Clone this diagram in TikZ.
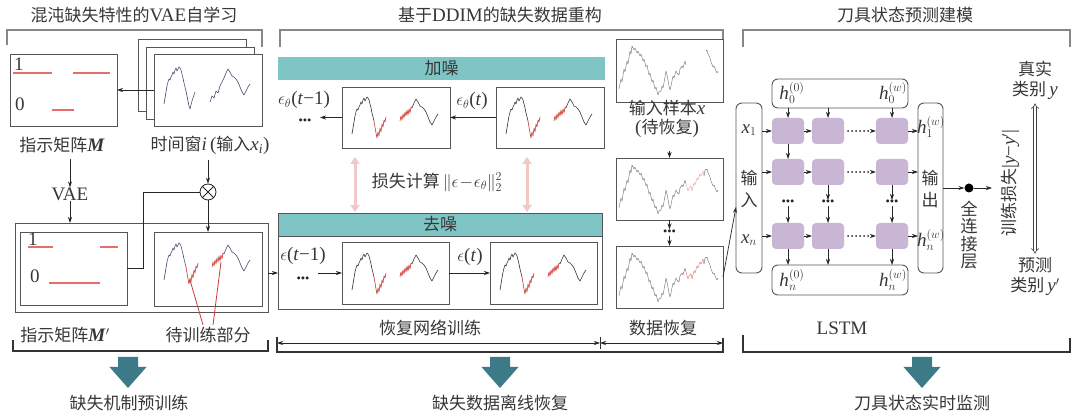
\documentclass[tikz,border=0pt]{standalone}
\usepackage{fontspec}
\setmainfont[Scale=1.12]{Liberation Serif}
\newfontfamily\cjk{Noto Sans CJK SC}
\usetikzlibrary{arrows.meta,calc}
\newcommand\zh[1]{{\cjk #1}}
\newcommand\tx[1]{\mbox{\textit{#1}}}
\definecolor{txtc}{RGB}{55,55,55}
\definecolor{boxc}{RGB}{85,85,85}
\definecolor{brk}{RGB}{135,135,135}
\definecolor{hdr}{RGB}{128,197,197}
\definecolor{bigc}{RGB}{60,122,136}
\definecolor{pinkc}{RGB}{240,200,200}
\definecolor{redc}{RGB}{200,60,50}
\definecolor{salmon}{RGB}{232,110,110}
\definecolor{lstmc}{RGB}{200,182,212}
\definecolor{wblue}{RGB}{60,75,110}
\definecolor{recg}{RGB}{120,120,120}
% waveform pieces (local pixel coordinates)
\newcommand\wvSegA[1]{\draw[#1] (10,46)--(11,40)--(12,34)--(13,28)--(14,24)--(15,21)--(16,22)--(17,19)--(18,17)--(19,14)--(20,16)--(21,12)--(22,10)--(23,13)--(24,11)--(25,9)--(26,10)--(27,12)--(28,16)--(29,20)--(30,25)--(31,29)--(32,33);}
\newcommand\wvDipC[1]{\draw[#1] (32,33)--(33,38)--(34,43)--(35,48)--(36,51)--(37,47)--(38,43)--(39,40)--(40,37)--(41,34);}
\newcommand\wvDipN[1]{\draw[#1] (32,33)--(33,39)--(34,45)--(35,50)--(36,44)--(37,48)--(38,40)--(39,44)--(40,36)--(41,39)--(42,32)--(43,34)--(44,29);}
\newcommand\wvStC[1]{\draw[#1] (56,44)--(58,38)--(60,40)--(62,33)--(64,35)--(66,28)--(68,24)--(70,20);}
\newcommand\wvStN[1]{\draw[#1] (58,33)--(59,28)--(60,32)--(61,26)--(62,30)--(63,24)--(64,28)--(65,22)--(66,27)--(67,21)--(68,25)--(69,19)--(70,20);}
\newcommand\wvRest[1]{\draw[#1] (70,20)--(72,15)--(74,11)--(76,14)--(78,18)--(80,19)--(82,21)--(84,24)--(86,29)--(88,34)--(90,37)--(92,33)--(94,29)--(96,26);}
\newcommand\recA[1]{\draw[#1] (3,50)--(5,40)--(6,43)--(8,30)--(9,33)--(11,22)--(12,25)--(14,12)--(15,15)--(16,7)--(18,11)--(19,9)--(21,14)--(22,12)--(24,17)--(25,15)--(27,22)--(28,20)--(30,28)--(31,26)--(33,36)--(34,34)--(36,43)--(37,41)--(39,50)--(40,48)--(42,56)--(43,53)--(45,52)--(46,47)--(47,49)--(49,38)--(50,32)--(51,36)--(53,47)--(54,51)--(55,47)--(57,37)--(58,39)--(60,32)--(61,34)--(63,36)--(64,30)--(66,27)--(67,29)--(69,22)--(70,26);}
\newcommand\recB[1]{\draw[#1] (70,26)--(72,33)--(73,30)--(75,28)--(76,33)--(78,25)--(79,27)--(81,20)--(82,22)--(84,16)--(85,18)--(87,13)--(88,18);}
\newcommand\recC[1]{\draw[#1] (88,18)--(89,12)--(91,11)--(92,15)--(94,19)--(95,23)--(97,28)--(98,27)--(100,32)--(101,34)--(102,32);}
\newcommand\bigdown[1]{\fill[bigc] (#1-10,357)--(#1+10,357)--(#1+10,367)--(#1+18.5,367)--(#1,388)--(#1-18.5,367)--(#1-10,367)--cycle;}
\begin{document}
\begin{tikzpicture}[x=1pt,y=-1pt,
  txt/.style={font=\fontsize{17pt}{19pt}\selectfont, text=txtc, inner sep=0pt},
  pbox/.style={draw=boxc, line width=0.9pt, fill=white, inner sep=0pt, outer sep=0pt},
  rbox/.style={draw=boxc, line width=0.9pt, rounded corners=6pt, inner sep=0pt, outer sep=0pt},
  cellbox/.style={fill=lstmc, rounded corners=4pt, minimum width=32pt, minimum height=26pt, inner sep=0pt, outer sep=0pt},
  arr/.style={-{Stealth[length=6pt,width=4pt]}, line width=0.7pt, draw=black!85},
  darr/.style={{Stealth[length=6pt,width=4pt]}-{Stealth[length=6pt,width=4pt]}, line width=0.7pt, draw=black!85},
  dotarr/.style={-{Stealth[length=6pt,width=4pt]}, line width=2pt, line cap=round, dash pattern=on 0pt off 4pt, draw=black!85},
  brack/.style={draw=brk, line width=1.3pt},
  bbrack/.style={draw=black!80, line width=1.1pt},
  pinkarr/.style={draw=pinkc, line width=3pt, {Triangle[length=7pt,width=9pt]}-{Triangle[length=7pt,width=9pt]}},
  wave/.style={line width=0.6pt, line join=round},
  rwave/.style={line width=0.45pt, line join=round},
  dotsn/.style={font=\fontsize{11pt}{13pt}\selectfont, text=black!85, inner sep=0pt}
]
\useasboundingbox (0,0) rectangle (1080,419);
\fill[white] (0,0) rectangle (1080,419);

% ================= Section 1 =================
\node[txt] (t1) at (134,15) {\zh{混沌缺失特性的}VAE\zh{自学习}};
\draw[brack] (7,45) -- (7,30) -- (262,30) -- (262,47);

\node[pbox, minimum width=107pt, minimum height=72pt] (M) at (63.5,90) {};
\node[txt, anchor=west] (one1) at (14,64) {1};
\node[txt, anchor=west] (zero1) at (15,104) {0};
\draw[salmon, line width=1.4pt] (13,73) -- (52,73) (73,73) -- (110,73) (52,110) -- (74,110);

\node[pbox, minimum width=108pt, minimum height=72pt] (tw3) at (192,75) {};
\node[pbox, minimum width=108pt, minimum height=72pt] (tw2) at (200,83) {};
\node[pbox, minimum width=108pt, minimum height=72pt] (tw) at (208,90) {};
\begin{scope}[shift={(154,58)}]
  \wvSegA{wave, wblue}\wvDipC{wave, wblue}\wvStC{wave, wblue}\wvRest{wave, wblue}
\end{scope}
\draw[arr] (tw.west) -- (M.east);

\node[txt] (lM) at (62,145) {\zh{指示矩阵}\textbf{\textit{M}}};
\node[txt] (ltw) at (210,145) {\zh{时间窗}\textit{i}\,(\zh{输入}\textit{x}\textsubscript{\textit{i}})};

\node[txt] (vae) at (70,194) {VAE};
\draw[arr] (vae.north |- lM.south) ++(0,6) -- (vae.north);

\node[draw=black!85, line width=0.8pt, circle, minimum size=16pt, inner sep=0pt] (mul) at (208,192) {};
\draw[black!85, line width=0.8pt] (mul.north west) -- (mul.south east) (mul.north east) -- (mul.south west);
\draw[arr] (mul.north |- ltw.south) ++(0,6) -- (mul.north);

\node[pbox, minimum width=253pt, minimum height=89pt] (L) at (141.5,267.5) {};
\draw[arr] (vae.south) -- (vae.south |- L.north);
\node[pbox, minimum width=107pt, minimum height=73pt] (Mp) at (73.5,268.5) {};
\node[txt, anchor=west] (one2) at (28,239) {1};
\node[txt, anchor=west] (zero2) at (30,276) {0};
\draw[salmon, line width=1.4pt] (28,247) -- (53,247) (100,247) -- (118,247) (49,283) -- (100,283);

\node[pbox, minimum width=108pt, minimum height=74pt] (P) at (208,269) {};
\begin{scope}[shift={(154,234)}]
  \wvSegA{wave, wblue}\wvDipN{wave, redc}\wvStN{wave, redc}\wvRest{wave, wblue}
\end{scope}
\draw[arr] (mul.south) -- (P.north);
\draw[black!85, line width=0.8pt] (Mp.east) -- (143,268.5) -- (143,192) -- (mul.west);

\node[txt] (lMp) at (65,335) {\zh{指示矩阵}\textbf{\textit{M}}$'$};
\node[txt] (lP) at (208,335) {\zh{待训练部分}};
\draw[redc, line width=0.8pt] (203,325) -- (190,280);
\draw[redc, line width=0.8pt] (213,325) -- (221,262);

\draw[bbrack] (13,340) -- (13,351) -- (268,351) -- (268,340);
\bigdown{128}
\node[txt] (b1) at (129,403) {\zh{缺失机制预训练}};

% ================= Section 2 =================
\node[txt] (t2) at (500,15) {\zh{基于}DDIM\zh{的缺失数据重构}};
\draw[brack] (280,47) -- (280,30) -- (723,30) -- (723,47);

\node[fill=hdr, minimum width=327pt, minimum height=23pt, inner sep=0pt] (add) at (441.5,68.5) {};
\node[txt] at (add.center) {\zh{加噪}};

\node[pbox, minimum width=108pt, minimum height=61pt] (ua) at (396,117.5) {};
\node[pbox, minimum width=108pt, minimum height=61pt] (ub) at (550,117.5) {};
\begin{scope}[shift={(342,88)}]
  \wvSegA{wave, black!80}\wvDipN{wave, redc}\wvStN{wave, redc}\wvRest{wave, black!80}
\end{scope}
\begin{scope}[shift={(496,88)}]
  \wvSegA{wave, black!80}\wvDipN{wave, redc}\wvStN{wave, redc}\wvRest{wave, black!80}
\end{scope}
\coordinate (uend) at (320,117.5);
\draw[arr] (ub.west) -- (ua.east);
\draw[arr] (ua.west) -- (uend);
\node[txt] (et) at (472,101) {$\epsilon_\theta$(\textit{t})};
\node[txt] (et1) at (304,100) {$\epsilon_\theta$(\textit{t}−1)};
\node[dotsn] (ud) at (305,122) {•••};

\node[pbox, minimum width=324pt, minimum height=96pt] (den) at (440,261) {};
\node[fill=hdr, draw=boxc, line width=0.9pt, minimum width=324pt, minimum height=23pt, inner sep=0pt] (denh) at (440,224.5) {};
\node[txt] at (denh.center) {\zh{去噪}};
\node[pbox, minimum width=107pt, minimum height=62pt] (la) at (395.5,273) {};
\node[pbox, minimum width=107pt, minimum height=62pt] (lb) at (543.5,273) {};
\begin{scope}[shift={(342,244)}]
  \wvSegA{wave, black!80}\wvDipN{wave, redc}\wvStN{wave, redc}\wvRest{wave, black!80}
\end{scope}
\begin{scope}[shift={(490,244)}]
  \wvSegA{wave, black!80}\wvDipN{wave, redc}\wvStN{wave, redc}\wvRest{wave, black!80}
\end{scope}
\coordinate (lstart) at (318,273);
\draw[arr] (lstart) -- (la.west);
\draw[arr] (la.east) -- (lb.west);
\node[txt] (e1) at (470,257) {$\epsilon$(\textit{t})};
\node[txt] (e0) at (303,256) {$\epsilon$(\textit{t}−1)};
\node[dotsn] (ld) at (303,280) {•••};
\draw[arr] (L.east |- den.west) ++(0,12) -- ($(den.west)+(0,12)$);

\coordinate (pa1) at (355,157); \coordinate (pa2) at (355,212);
\coordinate (pb1) at (527,157); \coordinate (pb2) at (527,212);
\draw[pinkarr] (pa1) -- (pa2);
\draw[pinkarr] (pb1) -- (pb2);
\node[txt] (loss) at (437,182) {\zh{损失计算}\,$\|\epsilon\!-\!\epsilon_\theta\|_2^2$};

% data recovery column
\node[pbox, minimum width=107pt, minimum height=63pt] (r1) at (669.5,70.5) {};
\begin{scope}[shift={(616,39)}]
  \recA{rwave, recg}
  \draw[rwave, recg] (90,12)--(91,11)--(92,15)--(94,19)--(95,23)--(97,28)--(98,27)--(100,32)--(101,34)--(102,32);
\end{scope}
\node[txt, align=center] (lr1) at (667,119) {\zh{输入样本}\textit{x}\\(\zh{待恢复})};
\node[pbox, minimum width=107pt, minimum height=62pt] (r2) at (669.5,189) {};
\begin{scope}[shift={(616,158)}]
  \recA{rwave, recg}\recB{rwave, redc!45}\recC{rwave, recg}
\end{scope}
\node[pbox, minimum width=107pt, minimum height=62pt] (r3) at (669.5,277) {};
\begin{scope}[shift={(616,246)}]
  \recA{rwave, recg}\recB{rwave, redc!70}\recC{rwave, recg}
\end{scope}
\node[dotsn, minimum height=6pt] (rd) at (669.5,232.5) {•••};
\draw[arr] (r2.north) ++(0,-7) -- (r2.north);
\draw[arr] (r2.south) -- (rd.north);
\draw[arr] (rd.south) -- (r3.north);

\node[txt] (l21) at (430,328) {\zh{恢复网络训练}};
\node[txt] (l22) at (663,328) {\zh{数据恢复}};
\coordinate (d0) at (277,343); \coordinate (d1) at (600,343); \coordinate (d2) at (723,343);
\draw[darr] (d0) -- (d1);
\draw[darr] (d1) -- (d2);
\draw[black!80, line width=0.8pt] (600,337) -- (600,349);
\draw[bbrack] (277,337) -- (277,352) -- (723,352) -- (723,338);
\bigdown{500}
\node[txt] (b2) at (500,403) {\zh{缺失数据离线恢复}};

% ================= Section 3 =================
\node[txt] (t3) at (905,15) {\zh{刀具状态预测建模}};
\draw[brack] (743,47) -- (743,30) -- (1070,30) -- (1070,47);

\node[rbox, minimum width=26pt, minimum height=170pt] (inp) at (749,188) {};
\node[txt] at (749,130) {$\tx{x}_1$};
\node[txt] at (749,178) {\zh{输}};
\node[txt] at (749,200) {\zh{入}};
\node[txt] at (749,240) {$\tx{x}_n$};
\draw[arr] (r3.east) -- ($(inp.west)+(0,19)$);

\node[rbox, minimum width=25pt, minimum height=170pt] (outb) at (930.5,188) {};
\node[txt] at (931,127) {$\tx{h}_1^{(w)}$};
\node[txt] at (930,178) {\zh{输}};
\node[txt] at (930,200) {\zh{出}};
\node[txt] at (931,240) {$\tx{h}_n^{(w)}$};

\node[rbox, minimum width=136pt, minimum height=29pt] (topb) at (840,93.5) {};
\node[txt] at (792,93) {$\tx{h}_0^{(0)}$};
\node[txt] at (893,93) {$\tx{h}_0^{(w)}$};
\node[rbox, minimum width=136pt, minimum height=30pt] (botb) at (840,280) {};
\node[txt] at (792,280) {$\tx{h}_n^{(0)}$};
\node[txt] at (893,280) {$\tx{h}_n^{(w)}$};

\node[cellbox] (c11) at (788,131) {};
\node[cellbox] (c12) at (828,131) {};
\node[cellbox] (c13) at (892,131) {};
\node[cellbox] (c21) at (788,172) {};
\node[cellbox] (c22) at (828,172) {};
\node[cellbox] (c23) at (892,172) {};
\node[cellbox] (c31) at (788,236) {};
\node[cellbox] (c32) at (828,236) {};
\node[cellbox] (c33) at (892,236) {};
\node[dotsn] (v1) at (788,203) {•••};
\node[dotsn] (v2) at (828,203) {•••};
\node[dotsn] (v3) at (892,203) {•••};

\foreach \r in {1,2,3}{
  \draw[arr] (inp.east |- c\r1.west) -- (c\r1.west);
  \draw[arr] (c\r1.east) -- (c\r2.west);
  \draw[dotarr] ($(c\r2.east)+(4,0)$) -- (c\r3.west);
  \draw[arr] (c\r3.east) -- (outb.west |- c\r3.east);
}
\foreach \c in {1,2,3}{
  \draw[arr] (c1\c.north |- topb.south) -- (c1\c.north);
  \draw[arr] (v\c.south) -- (c3\c.north);
  \draw[arr] (c3\c.south) -- (c3\c.south |- botb.north);
}
\draw[arr] (c11.south) -- (c21.north);
\draw[arr] (c22.south) -- (v2.north);
\draw[arr] (c23.south) -- (v3.north);

\node[circle, fill=black, minimum size=9pt, inner sep=0pt] (fc) at (969,188) {};
\coordinate (fcend) at (992,188);
\draw[arr] (outb.east) -- (fc.west);
\draw[arr] (fc.east) -- (fcend);
\node[txt, align=center, font=\fontsize{17pt}{17.6pt}\selectfont] (fcl) at (969,235) {\zh{全}\\\zh{连}\\\zh{接}\\\zh{层}};

\node[txt, rotate=90] (tl) at (1010,183) {\zh{训练损失}|\textit{y}−\textit{y}$'$|};
\node[txt, align=center, font=\fontsize{17pt}{20pt}\selectfont] (ytrue) at (1035,80) {\zh{真实}\\\zh{类别}\,\textit{y}};
\node[txt, align=center, font=\fontsize{17pt}{20pt}\selectfont] (ypred) at (1035,277) {\zh{预测}\\\zh{类别}\,\textit{y}$'$};
\draw[double=white, double distance=2.2pt, line width=0.6pt, draw=black!75, {Implies[]}-{Implies[]}] (ytrue.south) ++(0,4) -- ($(ypred.north)+(0,-4)$);

\node[txt] (lstm) at (842,328) {LSTM};
\draw[bbrack] (743,335) -- (743,352) -- (1070,352) -- (1070,338);
\bigdown{922}
\node[txt] (b3) at (922,403) {\zh{刀具状态实时监测}};
\end{tikzpicture}
\end{document}
